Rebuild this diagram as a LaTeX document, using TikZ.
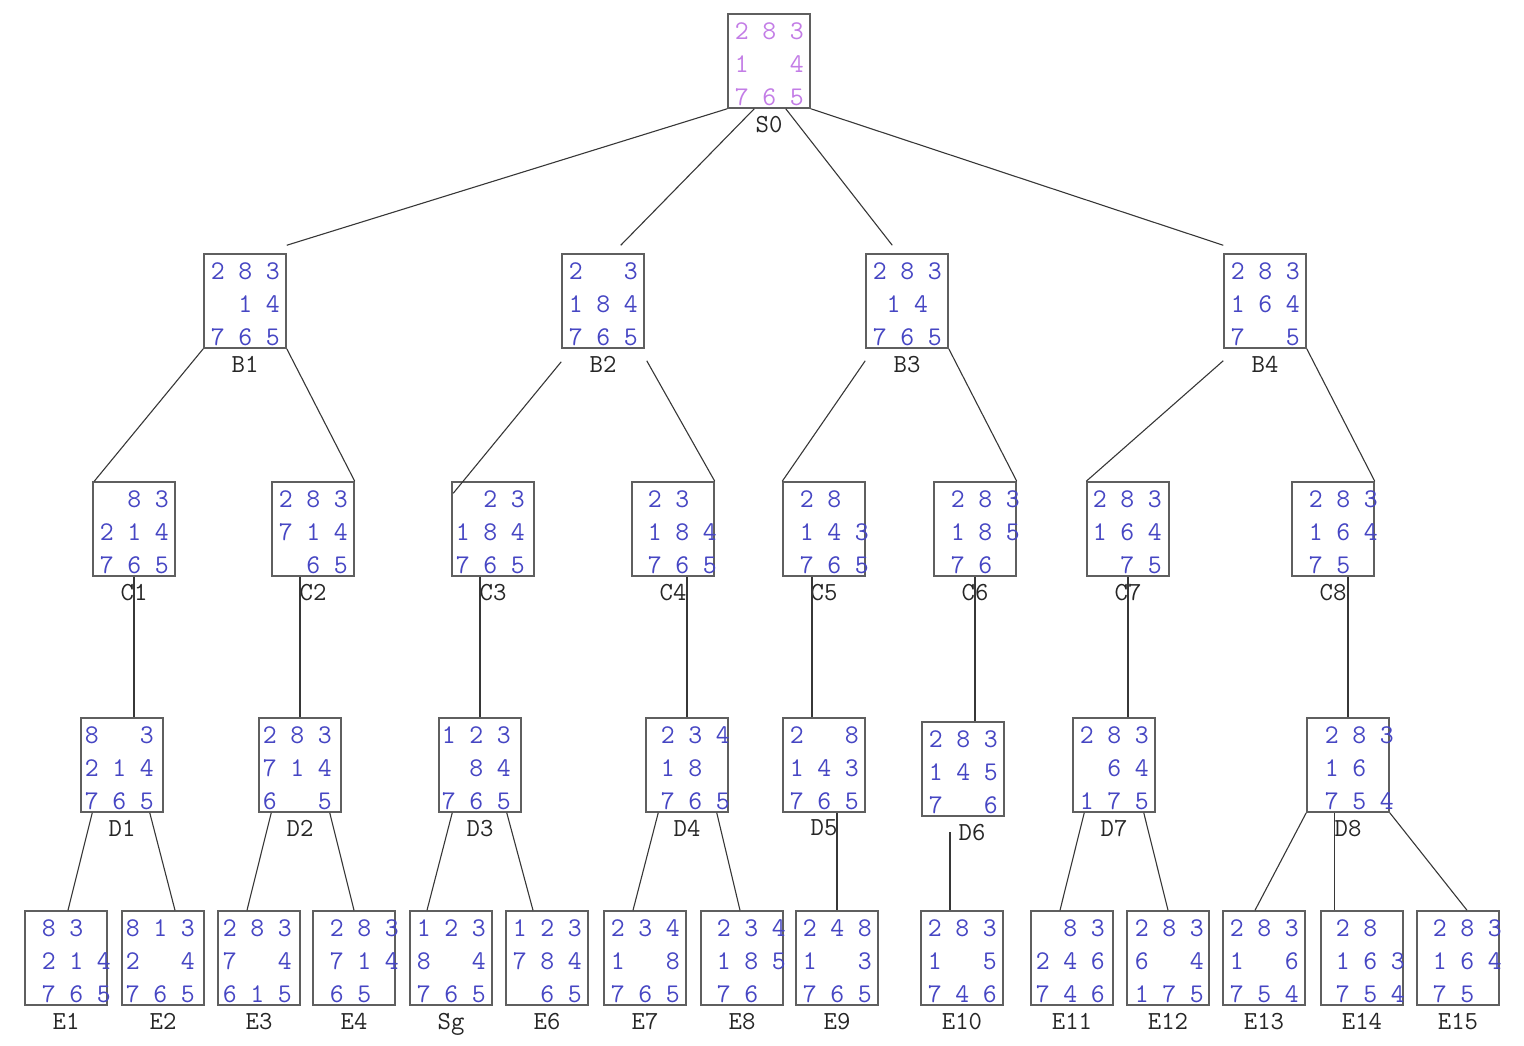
\documentclass[tikz,border=0pt]{standalone}
\usepackage{tikz}
\usetikzlibrary{positioning, calc}

\definecolor{boxgray}{RGB}{95,95,95}
\definecolor{linkgray}{RGB}{55,55,55}
\definecolor{tileblue}{RGB}{70,70,195}
\definecolor{tilepurple}{RGB}{195,125,230}

% one 8-puzzle board: [shift of the digits]{row}{row}{row}
\newlength\pzoff
\newcommand\pzcell[1]{\makebox[27.5pt]{#1}}
\newcommand\pzrow[3]{\hbox to 82pt{\hskip\pzoff\pzcell{#1}\pzcell{#2}\pzcell{#3}\hss}}
\newcommand\pzboard[4][0pt]{\setlength\pzoff{#1}%
  \vbox to 94pt{\baselineskip=33pt\lineskiplimit=-1000pt
    \vskip-8pt\hbox{}#2#3#4\vss}}

\tikzset{
  state/.style={draw=boxgray, line width=1.5pt, inner sep=0pt, text=tileblue,
    font=\fontsize{27}{33}\selectfont\ttfamily},
  root/.style={state, text=tilepurple},
  tag/.style={font=\fontsize{26}{30}\selectfont\ttfamily, text=black!85, inner sep=1pt},
  link/.style={draw=linkgray, line width=1.1pt}
}

\begin{document}
\begin{tikzpicture}[x=1pt, y=-1pt]
  \useasboundingbox (0,0) rectangle (1524,1045);

  % =========== start state ===========
  \node[root] (S0) at (769,61) {\pzboard{\pzrow283}{\pzrow1{}4}{\pzrow765}};

  % =========== level B ===========
  \node[state] (B1) at (245,301) {\pzboard{\pzrow283}{\pzrow{}14}{\pzrow765}};
  \node[state] (B2) at (603,301) {\pzboard{\pzrow2{}3}{\pzrow184}{\pzrow765}};
  \node[state] (B3) at (907,301) {\pzboard{\pzrow283}{\hbox to 82pt{\hskip13.75pt\pzcell1\pzcell4\hss}}{\pzrow765}};
  \node[state] (B4) at (1265,301) {\pzboard{\pzrow283}{\pzrow164}{\pzrow7{}5}};

  % =========== level C ===========
  \node[state] (C1) at (134,529) {\pzboard{\pzrow{}83}{\pzrow214}{\pzrow765}};
  \node[state] (C2) at (313,529) {\pzboard{\pzrow283}{\pzrow714}{\pzrow{}65}};
  \node[state] (C3) at (493,529) {\pzboard[-3pt]{\pzrow{}23}{\pzrow184}{\pzrow765}};
  \node[state] (C4) at (673,529) {\pzboard[9pt]{\pzrow23{}}{\pzrow184}{\pzrow765}};
  \node[state] (C5) at (824,529) {\pzboard[10pt]{\pzrow28{}}{\pzrow143}{\pzrow765}};
  \node[state] (C6) at (975,529) {\pzboard[10pt]{\pzrow283}{\pzrow185}{\pzrow76{}}};
  \node[state] (C7) at (1128,529) {\pzboard[-1pt]{\pzrow283}{\pzrow164}{\pzrow{}75}};
  \node[state] (C8) at (1333,529) {\pzboard[10pt]{\pzrow283}{\pzrow164}{\pzrow75{}}};

  % =========== level D ===========
  \node[state] (D1) at (122,765) {\pzboard[-3pt]{\pzrow8{}3}{\pzrow214}{\pzrow765}};
  \node[state] (D2) at (300,765) {\pzboard[-3pt]{\pzrow283}{\pzrow714}{\pzrow6{}5}};
  \node[state] (D3) at (480,765) {\pzboard[-4pt]{\pzrow123}{\pzrow{}84}{\pzrow765}};
  \node[state] (D4) at (687,765) {\pzboard[8pt]{\pzrow234}{\pzrow18{}}{\pzrow765}};
  \node[state] (D5) at (824,765) {\pzboard{\pzrow2{}8}{\pzrow143}{\pzrow765}};
  \node[state] (D6) at (963,769) {\pzboard{\pzrow283}{\pzrow145}{\pzrow7{}6}};
  \node[state] (D7) at (1114,765) {\pzboard{\pzrow283}{\pzrow{}64}{\pzrow175}};
  \node[state] (D8) at (1348,765) {\pzboard[11pt]{\pzrow283}{\pzrow16{}}{\pzrow754}};

  % =========== level E ===========
  \node[state] (E1) at (66,958) {\pzboard[10pt]{\pzrow83{}}{\pzrow214}{\pzrow765}};
  \node[state] (E2) at (163,958) {\pzboard[-3pt]{\pzrow813}{\pzrow2{}4}{\pzrow765}};
  \node[state] (E3) at (259,958) {\pzboard[-2pt]{\pzrow283}{\pzrow7{}4}{\pzrow615}};
  \node[state] (E4) at (354,958) {\pzboard[10pt]{\pzrow283}{\pzrow714}{\pzrow65{}}};
  \node[state] (Sg) at (451,958) {\pzboard{\pzrow123}{\pzrow8{}4}{\pzrow765}};
  \node[state] (E6) at (547,958) {\pzboard{\pzrow123}{\pzrow784}{\pzrow{}65}};
  \node[state] (E7) at (645,958) {\pzboard{\pzrow234}{\pzrow1{}8}{\pzrow765}};
  \node[state] (E8) at (742,958) {\pzboard[9pt]{\pzrow234}{\pzrow185}{\pzrow76{}}};
  \node[state] (E9) at (837,958) {\pzboard{\pzrow248}{\pzrow1{}3}{\pzrow765}};
  \node[state] (E10) at (962,958) {\pzboard{\pzrow283}{\pzrow1{}5}{\pzrow746}};
  \node[state] (E11) at (1072,958) {\pzboard[-2pt]{\pzrow{}83}{\pzrow246}{\pzrow746}};
  \node[state] (E12) at (1168,958) {\pzboard[1pt]{\pzrow283}{\pzrow6{}4}{\pzrow175}};
  \node[state] (E13) at (1264,958) {\pzboard{\pzrow283}{\pzrow1{}6}{\pzrow754}};
  \node[state] (E14) at (1362,958) {\pzboard[8pt]{\pzrow28{}}{\pzrow163}{\pzrow754}};
  \node[state] (E15) at (1458,958) {\pzboard[9pt]{\pzrow283}{\pzrow164}{\pzrow75{}}};

  % =========== names under the boards ===========
  \foreach \n in {S0,B1,B2,B3,B4,C1,C2,C3,C4,C5,C6,C7,C8,
                  D1,D2,D3,D4,D5,D7,D8,
                  E1,E2,E3,E4,Sg,E6,E7,E8,E9,E10,E11,E12,E13,E14,E15}
    \node[tag, below=6pt of \n] (\n-tag) {\n};
  \node[tag, below=6pt of D6, xshift=9pt] (D6-tag) {D6};

  % =========== links ===========
  % S0 -> B
  \draw[link] (S0.south west) -- ([yshift=8pt]B1.north east);
  \draw[link] ([xshift=27pt]S0.south west) -- ([xshift=-24pt,yshift=8pt]B2.north east);
  \draw[link] ([xshift=-25pt]S0.south east) -- ([xshift=27pt,yshift=8pt]B3.north west);
  \draw[link] (S0.south east) -- ([yshift=8pt]B4.north west);

  % B -> C
  \draw[link] (B1.south west) -- ([xshift=2pt]C1.north west);
  \draw[link] (B1.south east) -- (C2.north east);
  \draw[link] ([yshift=-13pt]B2.south west) -- ([xshift=2pt,yshift=-12pt]C3.north west);
  \draw[link] ([xshift=2pt,yshift=-12pt]B2.south east) -- (C4.north east);
  \draw[link] ([yshift=-12pt]B3.south west) -- (C5.north west);
  \draw[link] (B3.south east) -- (C6.north east);
  \draw[link] ([yshift=-12pt]B4.south west) -- (C7.north west);
  \draw[link] (B4.south east) -- (C8.north east);

  % C -> D
  \coordinate (c5foot) at ([xshift=-12pt]C5.south);
  \draw[link] (C1.south) -- (C1.south |- D1.north);
  \draw[link] (D2.north |- C2.south) -- (D2.north);
  \draw[link] (D3.north |- C3.south) -- (D3.north);
  \draw[link] (D4.north |- C4.south) -- (D4.north);
  \draw[link] (c5foot) -- (c5foot |- D5.north);
  \draw[link] (C6.south) -- (C6.south |- D6.north);
  \draw[link] (C7.south) -- (C7.south |- D7.north);
  \draw[link] (D8.north |- C8.south) -- (D8.north);

  % D -> E
  \coordinate (d6foot) at ([xshift=-12pt]E10.north);
  \coordinate (d8mid) at ([xshift=28pt]D8.south west);
  \draw[link] ([xshift=12pt]D1.south west) -- ([xshift=2pt]E1.north);
  \draw[link] ([xshift=-14pt]D1.south east) -- ([xshift=12pt]E2.north);
  \draw[link] ([xshift=13pt]D2.south west) -- ([xshift=-12pt]E3.north);
  \draw[link] ([xshift=-12pt]D2.south east) -- (E4.north);
  \draw[link] ([xshift=14pt]D3.south west) -- ([xshift=-24pt]Sg.north);
  \draw[link] ([xshift=-15pt]D3.south east) -- ([xshift=-14pt]E6.north);
  \draw[link] ([xshift=13pt]D4.south west) -- ([xshift=-12pt]E7.north);
  \draw[link] ([xshift=-12pt]D4.south east) -- ([xshift=-2pt]E8.north);
  \draw[link] (E9.north |- D5.south) -- (E9.north);
  \draw[link] (d6foot |- D6-tag.west) -- (d6foot);
  \draw[link] ([xshift=12pt]D7.south west) -- ([xshift=-12pt]E11.north);
  \draw[link] ([xshift=-12pt]D7.south east) -- (E12.north);
  \draw[link] (D8.south west) -- ([xshift=-9pt]E13.north);
  \draw[link] (d8mid) -- (d8mid |- E14.north);
  \draw[link] (D8.south east) -- ([xshift=9pt]E15.north);

\end{tikzpicture}
\end{document}
